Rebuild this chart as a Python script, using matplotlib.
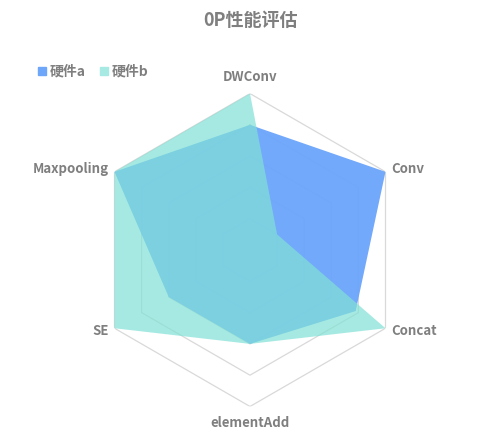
import numpy as np
import matplotlib
matplotlib.use('Agg')
import matplotlib.pyplot as plt
from matplotlib.lines import Line2D

plt.rcParams['font.family'] = ['Noto Sans CJK SC', 'DejaVu Sans']

categories = ['DWConv', 'Conv', 'Concat', 'elementAdd', 'SE', 'Maxpooling']
hw_a = [4.0, 5.0, 3.9, 3.0, 3.0, 5.0]
hw_b = [5.0, 1.0, 5.0, 3.0, 5.0, 5.0]
series_names = ['硬件a', '硬件b']
grid_levels = [1, 2, 3, 4, 5]

gray = '#7f7f7f'
col_a = '#6ea6fa'
col_b = '#80e1d6'

n = len(categories)
angles = np.linspace(0, 2 * np.pi, n, endpoint=False)
ang_closed = np.append(angles, angles[0])

fig = plt.figure(figsize=(5, 4.34), dpi=100)
ax = fig.add_axes([0.187, 0.0634, 0.626, 0.721], projection='polar')
ax.set_theta_offset(np.pi / 2)
ax.set_theta_direction(-1)
ax.set_ylim(0, 5)
ax.grid(False)
ax.spines['polar'].set_visible(False)
ax.set_xticks([])
ax.set_yticks([])
ax.patch.set_alpha(0)

# hexagon grid
for lv in grid_levels:
    ax.plot(ang_closed, [lv] * (n + 1), color='#d9d9d9', lw=0.9, zorder=1)

va = np.append(hw_a, hw_a[0])
vb = np.append(hw_b, hw_b[0])
ax.fill(ang_closed, va, color=col_a, alpha=0.97, lw=0, zorder=2)
ax.fill(ang_closed, vb, color=col_b, alpha=0.7, lw=0, zorder=3)

# axis labels
lab_pos = {
    'DWConv': (0, 5.3, 'center', 'bottom'),
    'Conv': (1, 5.2, 'left', 'center'),
    'Concat': (2, 5.2, 'left', 'center'),
    'elementAdd': (3, 5.3, 'center', 'top'),
    'SE': (4, 5.2, 'right', 'center'),
    'Maxpooling': (5, 5.2, 'right', 'center'),
}
for name in categories:
    i, r, ha, vva = lab_pos[name]
    ax.text(angles[i], r, name, ha=ha, va=vva, fontsize=9.5,
            fontweight='bold', color=gray, zorder=5)

fig.text(0.5, 0.953, '0P性能评估', ha='center', va='center', fontsize=13,
         fontweight='bold', color=gray)

handles = [Line2D([], [], marker='s', ls='', color=col_a, markersize=6),
           Line2D([], [], marker='s', ls='', color='#a6eae3', markersize=6)]
leg = fig.legend(handles, series_names, loc='upper left', bbox_to_anchor=(0.045, 0.88),
                 ncol=2, frameon=False, handletextpad=0.05, columnspacing=0.8,
                 handlelength=1.0, prop={'weight': 'bold', 'size': 10})
for t in leg.get_texts():
    t.set_color(gray)

fig.savefig('out.png', dpi=100)
